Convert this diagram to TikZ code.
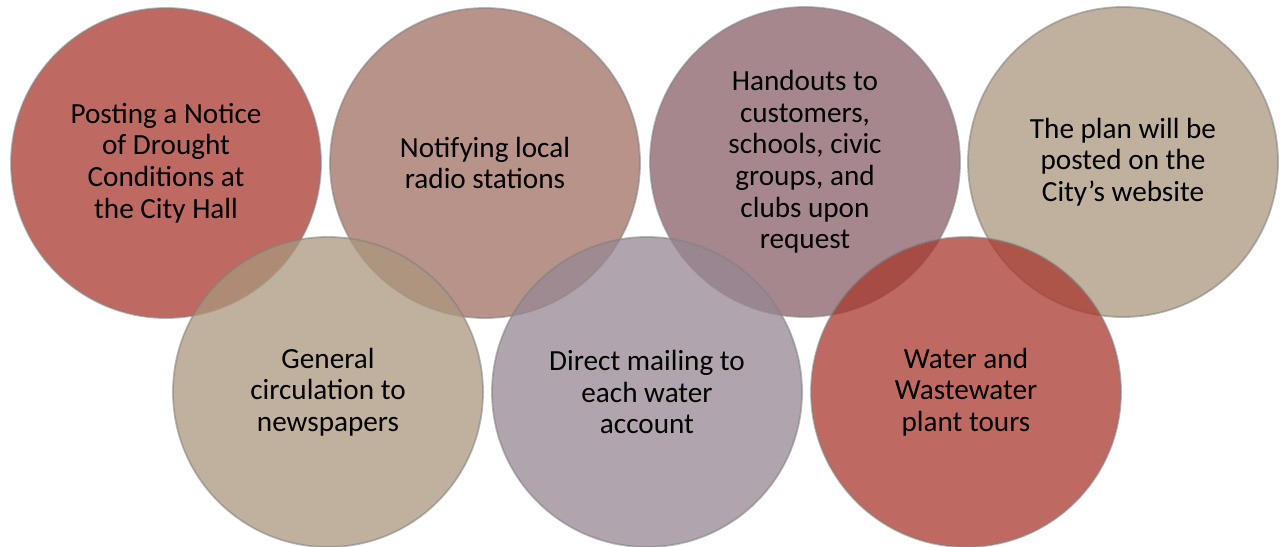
\documentclass[tikz,border=0pt]{standalone}
\usepackage{fontspec}
\setmainfont{Carlito}
\definecolor{bubblered}{RGB}{168,55,46}
\definecolor{bubbletan}{RGB}{170,151,124}
\definecolor{bubblerose}{RGB}{159,111,99}
\definecolor{bubblemauve}{RGB}{138,95,104}
\definecolor{bubblelilac}{RGB}{150,135,147}
\begin{document}
\begin{tikzpicture}[x=0.5pt, y=-0.5pt,
    every node/.style={font=\fontsize{14.6}{15.8}\selectfont, align=center},
    bubble/.style={circle, minimum size=155pt, inner sep=0pt,
      fill opacity=0.75, text opacity=1,
      draw=black!50, draw opacity=0.55, line width=0.9pt}]
    \useasboundingbox (0,0) rectangle (1288,546);

    % Top row of bubbles
    \node[bubble, fill=bubblered] (notice) at (166,163)
      {Posting a Notice\\of Drought\\Conditions at\\the City Hall};
    \node[bubble, fill=bubblerose] (radio) at (485,163)
      {Notifying local\\radio stations};
    \node[bubble, fill=bubblemauve] (handouts) at (805,162)
      {Handouts to\\customers,\\schools, civic\\groups, and\\clubs upon\\request};
    \node[bubble, fill=bubbletan] (website) at (1123,162)
      {The plan will be\\posted on the\\City’s website};

    % Bottom row of bubbles, drawn over the top row
    \node[bubble, fill=bubbletan] (papers) at (328,392)
      {General\\circulation to\\newspapers};
    \node[bubble, fill=bubblelilac] (mailing) at (647,392)
      {Direct mailing to\\each water\\account};
    \node[bubble, fill=bubblered] (tours) at (966,392)
      {Water and\\Wastewater\\plant tours};
  \end{tikzpicture}
\end{document}
